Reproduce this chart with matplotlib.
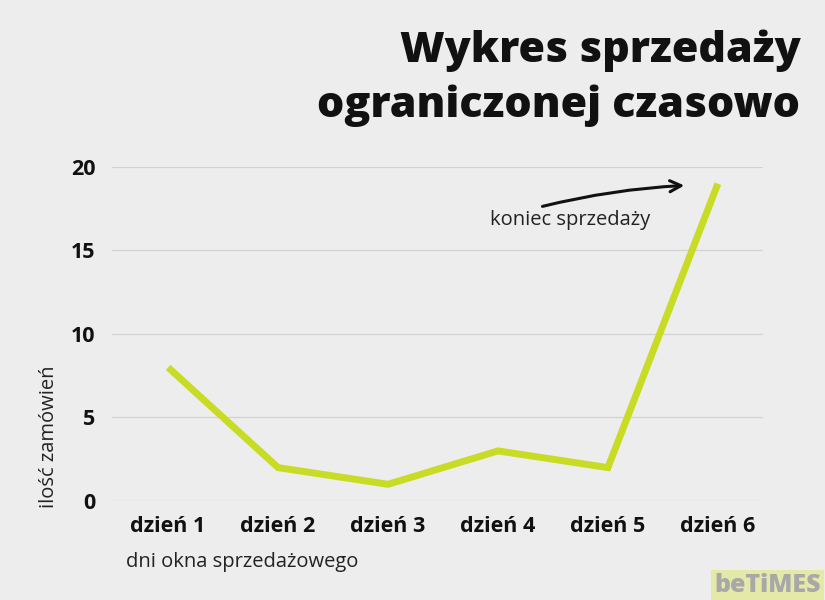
import matplotlib
matplotlib.use("Agg")
import matplotlib.pyplot as plt

# data
days = ['dzień 1', 'dzień 2', 'dzień 3', 'dzień 4', 'dzień 5', 'dzień 6']
orders = [8, 2, 1, 3, 2, 19]
y_ticks = [0, 5, 10, 15, 20]

bg = '#ededed'
line_color = '#c8dc26'

plt.rcParams['font.family'] = ['Open Sans', 'DejaVu Sans']

fig = plt.figure(figsize=(8.25, 6), dpi=100, facecolor=bg)
ax = fig.add_axes([0.1358, 0.165, 0.789, 0.5567])
ax.set_facecolor(bg)

x = list(range(len(days)))
ax.plot(x, orders, color=line_color, linewidth=5, solid_capstyle='butt',
        solid_joinstyle='miter', clip_on=False, zorder=3)

ax.set_xlim(-0.51, 5.41)
ax.set_ylim(0, 20)
ax.set_yticks(y_ticks)
ax.set_xticks(x)
ax.set_xticklabels(days, fontsize=15.5, fontweight='bold', color='#111111')
ax.set_yticklabels([str(t) for t in y_ticks], fontsize=15.5,
                   fontweight='bold', color='#111111')
ax.tick_params(axis='both', length=0)
ax.tick_params(axis='y', pad=12)
ax.tick_params(axis='x', pad=11)
ax.grid(True, axis='y', color='#d2d2d2', linewidth=0.9)
ax.set_axisbelow(True)
for s in ax.spines.values():
    s.set_visible(False)

# axis labels
fig.text(0.060, 0.272, 'ilość zamówień', rotation=90, ha='center', va='center',
         fontsize=14.5, color='#222222')
fig.text(0.153, 0.063, 'dni okna sprzedażowego', ha='left', va='center',
         fontsize=14.5, color='#222222')

# title
fig.text(0.970, 0.897, 'Wykres sprzedaży', ha='right', va='baseline',
         fontsize=31, fontweight='heavy', color='#111111')
fig.text(0.970, 0.805, 'ograniczonej czasowo', ha='right', va='baseline',
         fontsize=31, fontweight='heavy', color='#111111')

# annotation
ax.annotate('', xy=(4.72, 18.9), xytext=(3.38, 17.6),
            arrowprops=dict(arrowstyle='->,head_length=0.8,head_width=0.4',
                            color='#111111', lw=2.2,
                            connectionstyle='arc3,rad=-0.05'),
            annotation_clip=False)
ax.text(3.66, 16.85, 'koniec sprzedaży', ha='center', va='center',
        fontsize=14.5, color='#222222')

# logo
fig.text(0.866, 0.004, 'beTiMES', ha='left', va='bottom', fontsize=18,
         fontweight='heavy', color='#a8a8a8',
         bbox=dict(boxstyle='square,pad=0.12', facecolor='#e4e9a8',
                   edgecolor='none'))

fig.savefig('out.png', dpi=100, facecolor=bg)
